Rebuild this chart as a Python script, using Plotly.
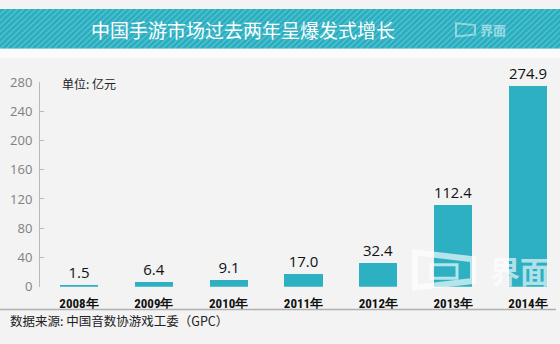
import plotly.graph_objects as go

years = ["2008年", "2009年", "2010年", "2011年", "2012年", "2013年", "2014年"]
values = [1.5, 6.4, 9.1, 17.0, 32.4, 112.4, 274.9]
value_labels = ["1.5", "6.4", "9.1", "17.0", "32.4", "112.4", "274.9"]
y_ticks = [0, 40, 80, 120, 160, 200, 240, 280]

W, H = 560, 344
BAR = "#2db1c2"
BANNER = "#2aafc1"
CJK = "Noto Sans CJK SC"

def py(pix):
    return 1 - pix / H

def px(pix):
    return pix / W

xs = list(range(len(years)))

fig = go.Figure()
fig.add_trace(go.Bar(
    x=xs, y=values, width=0.508, marker=dict(color=BAR, line=dict(width=0)),
    text=value_labels, textposition="outside", cliponaxis=False,
    textfont=dict(family="Open Sans, Noto Sans", size=15, color="#111111"),
    hoverinfo="skip",
))

shapes = []
# banner
shapes.append(dict(type="rect", xref="paper", yref="paper", x0=0, x1=1, y0=py(42), y1=1,
                   fillcolor=BANNER, line=dict(width=0), layer="below"))
# white strip
shapes.append(dict(type="rect", xref="paper", yref="paper", x0=0, x1=1, y0=py(52), y1=py(42),
                   fillcolor="#fbfbfb", line=dict(width=0), layer="below"))
# stripes on banner
step = 6
stripe_path = ""
for k in range(-60, W + 60, step):
    x0p, x1p = px(k), px(k + 42)
    stripe_path += f"M{x0p:.5f},{py(42):.5f} L{x1p:.5f},{py(0):.5f} "
shapes.append(dict(type="path", xref="paper", yref="paper", path=stripe_path,
                   line=dict(color="rgba(255,255,255,0.22)", width=1.2), layer="below"))
# bottom separator line
shapes.append(dict(type="line", xref="paper", yref="paper", x0=0, x1=px(556), y0=py(317), y1=py(317),
                   line=dict(color="#b0b0b0", width=1.5)))

def box_path(pts):
    return "M" + " L".join(f"{px(a):.5f},{py(b):.5f}" for a, b in pts) + " Z"

# watermark logo in chart
shapes.append(dict(type="path", xref="paper", yref="paper",
                   path=box_path([(415, 257), (473, 264), (473, 287), (415, 294)]),
                   line=dict(color="rgba(255,255,255,0.65)", width=6)))
shapes.append(dict(type="rect", xref="paper", yref="paper", x0=px(431), x1=px(457), y0=py(284), y1=py(270),
                   line=dict(color="rgba(255,255,255,0.65)", width=3)))
# small banner logo
shapes.append(dict(type="path", xref="paper", yref="paper",
                   path=box_path([(456, 15), (475, 17), (475, 27), (456, 29)]),
                   line=dict(color="rgba(255,255,255,0.45)", width=2)))

annotations = [
    dict(text="中国手游市场过去两年呈爆发式增长", x=px(243), y=py(22), xref="paper", yref="paper",
         showarrow=False, font=dict(family=CJK, size=19, color="white"), xanchor="center", yanchor="middle"),
    dict(text="<b>界面</b>", x=px(478), y=py(22), xref="paper", yref="paper", showarrow=False,
         font=dict(family=CJK, size=13, color="rgba(255,255,255,0.5)"), xanchor="left", yanchor="middle"),
    dict(text="单位: 亿元", x=px(60), y=py(79), xref="paper", yref="paper", showarrow=False,
         font=dict(family=CJK, size=12, color="#222222"), xanchor="left", yanchor="middle"),
    dict(text="数据来源: 中国音数协游戏工委（GPC）", x=px(8), y=py(329), xref="paper", yref="paper",
         showarrow=False, font=dict(family=CJK, size=12.5, color="#222222"), xanchor="left", yanchor="middle"),
    dict(text="<b>界面</b>", x=px(520), y=py(275), xref="paper", yref="paper", showarrow=False,
         font=dict(family=CJK, size=30, color="rgba(255,255,255,0.65)"), xanchor="center", yanchor="middle"),
]

xr0 = 0 - (79 - 40) / 74.83
xr1 = 6 + (560 - 528) / 74.83

fig.update_layout(
    width=W, height=H, margin=dict(l=0, r=0, t=0, b=0),
    paper_bgcolor="#f3f3f3", plot_bgcolor="rgba(0,0,0,0)",
    showlegend=False, shapes=shapes, annotations=annotations,
    bargap=0,
    xaxis=dict(domain=[px(40), 1], range=[xr0, xr1], tickvals=xs,
               ticktext=[f"<b>{y}</b>" for y in years],
               showgrid=False, zeroline=False, showline=False, ticks="",
               tickfont=dict(family="Liberation Sans Narrow, Roboto Condensed, Roboto", size=13, color="#111111"),
               ticklabelstandoff=7, fixedrange=True),
    yaxis=dict(domain=[py(293), py(77)], range=[0, 280], tickvals=y_ticks,
               showgrid=False, zeroline=False, showline=True, linecolor="#b8b8b8", linewidth=1,
               ticks="inside", ticklen=4, tickcolor="#b8b8b8",
               tickfont=dict(family="Open Sans, Noto Sans", size=13, color="#808080"),
               ticklabelstandoff=4, fixedrange=True),
)

fig.write_html("out.html")
